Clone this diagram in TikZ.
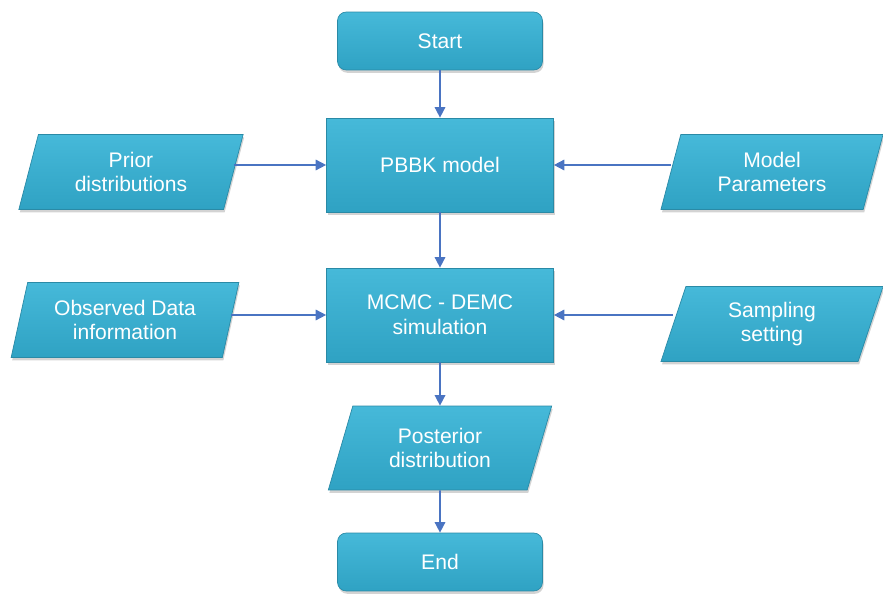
\documentclass[tikz,border=0pt]{standalone}
\usepackage{fontspec}
\setmainfont{Liberation Sans}
\usetikzlibrary{shapes.geometric,shadows,arrows.meta}
\definecolor{boxtop}{HTML}{46B9D9}
\definecolor{boxbot}{HTML}{2FA2C3}
\definecolor{boxedge}{HTML}{2A8AA6}
\definecolor{flowblue}{HTML}{4A74C2}

\begin{document}
\begin{tikzpicture}[x=0.02cm,y=-0.02cm,
      box/.style={draw=boxedge,top color=boxtop,bottom color=boxbot,
        text=white,align=center,inner sep=2pt,
        font=\fontsize{12}{14}\selectfont,
        drop shadow={shadow xshift=0.6pt,shadow yshift=-1.6pt,opacity=0.35}},
      term/.style={box,rectangle,rounded corners=5pt,minimum width=4.1cm,minimum height=1.16cm},
      proc/.style={box,rectangle,minimum width=4.54cm,minimum height=1.88cm},
      io/.style={box,trapezium,trapezium left angle=75,trapezium right angle=105,
        trapezium stretches=true,minimum width=4.5cm,minimum height=1.5cm},
      flow/.style={draw=flowblue,line width=0.9pt,-{Triangle[length=6pt,width=6pt]}}]
    \useasboundingbox (0,0) rectangle (883,594);

    % main column
    \node[term] (start) at (440,41) {Start};
    \node[proc] (pbbk) at (440,165) {PBBK model};
    \node[proc] (mcmc) at (440,315) {MCMC - DEMC\\simulation};
    \node[io,minimum height=1.68cm,trapezium left angle=72,trapezium right angle=108]
      (post) at (440,448) {Posterior\\distribution};
    \node[term] (end) at (440,562) {End};

    % inputs
    \node[io] (prior) at (131,172) {Prior\\distributions};
    \node[io,minimum width=4.46cm] (param) at (772,172) {Model\\Parameters};
    \node[io,minimum width=4.6cm] (obs) at (125,320) {Observed Data\\information};
    \node[io,minimum width=4.46cm] (samp) at (772,324) {Sampling\\setting};

    \draw[flow] (start) -- (pbbk);
    \draw[flow] (pbbk) -- (mcmc);
    \draw[flow] (mcmc) -- (post);
    \draw[flow] (post) -- (end);
    \draw[flow] (prior.east |- pbbk) -- (pbbk);
    \draw[flow] (param.west |- pbbk) -- (pbbk);
    \draw[flow] (obs.east |- mcmc) -- (mcmc);
    \draw[flow] (samp.west |- mcmc) -- (mcmc);
  \end{tikzpicture}
\end{document}
